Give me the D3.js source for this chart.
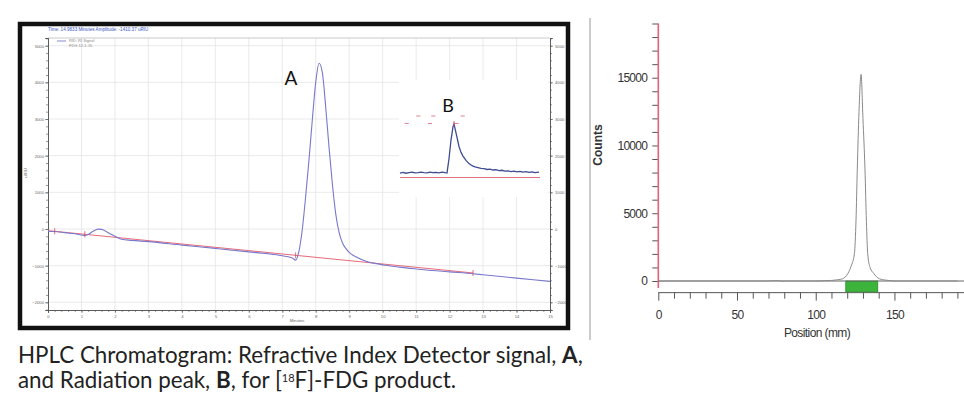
<!DOCTYPE html>
<html>
<head>
<meta charset="utf-8">
<script src="https://cdn.jsdelivr.net/npm/d3@7"></script>
<style>
  body { margin: 0; background: #fff; }
</style>
</head>
<body>
<script>
// ---- HPLC refractive index trace (minutes, uRIU) ----
var riTime   = [0, 0.2, 0.5, 0.8, 1.1, 1.2, 1.35, 1.5, 1.6, 1.8, 2.0, 2.2, 2.5, 3, 4, 5, 6, 7, 7.3, 7.4,
                7.5, 7.6, 7.7, 7.8, 7.9, 8.0, 8.1, 8.2, 8.3, 8.4, 8.5, 8.6, 8.7, 8.8, 8.9, 9.0, 9.2, 9.5,
                9.9, 10.5, 11, 12, 12.7, 13, 14, 15];
var riSignal = [-60, -70, -100, -130, -175, -150, -60, -5, -10, -100, -200, -280, -310, -345, -440, -530, -625, -730, -790, -850,
                -600, 0, 900, 1900, 3000, 4000, 4520, 4250, 3300, 2200, 1200, 400, -100, -380, -530, -640, -760, -880,
                -960, -1040, -1090, -1170, -1220, -1250, -1340, -1430];
// integration baseline and markers
var baseTime   = [0, 12.7];
var baseSignal = [-45, -1200];
var markTime   = [0.2, 1.1, 7.4, 12.7];
var yTicksL    = [-2000, -1000, 0, 1000, 2000, 3000, 4000, 5000];
var xTicksL    = d3.range(0, 16);

// ---- radiation detector inset (B) ----
var radTime   = [0, 0.3, 0.6, 0.9, 1.2, 1.5, 1.8, 2.1, 2.4, 2.7, 3.0, 3.3, 3.6, 3.9, 4.2, 4.5, 4.7,
                 4.9, 5.1, 5.3, 5.4, 5.5, 5.7, 5.9, 6.1, 6.3, 6.6, 6.9, 7.2, 7.5, 7.8, 8.1, 8.4, 8.7,
                 9.0, 9.3, 9.6, 9.9, 10.2, 10.5, 10.8, 11.1, 11.4, 11.7, 12.0, 12.3, 12.6, 12.9, 13.2, 13.5, 13.9];
var radCounts = [8, 9.5, 8, 9, 10, 8.5, 9, 10, 9, 8.5, 10, 9, 9.5, 8.5, 10, 9, 8.5,
                 35, 70, 95, 100, 92, 75, 58, 47, 40, 32, 26, 22, 20, 18.5, 17, 16.5, 15,
                 15.5, 14, 14.5, 13, 13.5, 12, 12.5, 11, 12, 10.5, 11.5, 10, 11, 9.5, 10.5, 9, 10];
var radMarkT  = [0.67, 3.0, 5.67, 1.83, 3.33, 6.27];
var radMarkC  = [101, 101, 101, 115, 115, 115];

// ---- radio-TLC scan ----
var tlcPos    = [0, 70, 72, 76, 78, 100, 104, 110, 114, 117, 120.5, 122.5, 124.6, 125.6, 126.4, 127.5, 128.8,
                 130, 131.3, 132.2, 133, 134.5, 136.8, 138.5, 140.5, 144, 148, 151, 190];
var tlcCounts = [0, 0, 25, 25, 0, 0, 15, 40, 90, 160, 570, 1100, 2040, 4500, 8200, 12500, 15250,
                 12000, 8200, 4400, 2040, 1000, 570, 330, 160, 70, 25, 0, 0];
var roi       = [119.1, 139.4];
var yTicksR   = [0, 5000, 10000, 15000];
var xTicksR   = [0, 50, 100, 150];

var W = 964, H = 405;
var svg = d3.select("body").append("svg").attr("width", W).attr("height", H);
svg.append("rect").attr("width", W).attr("height", H).attr("fill", "#fff");

// ================= left panel =================
var xL = d3.scaleLinear().domain([0, 15]).range([48, 550]);
var yL = d3.scaleLinear().domain([-2210, 5210]).range([310, 38]);

var left = svg.append("g").style("font-family", "'Liberation Sans', Arial, sans-serif");

// grid
left.selectAll(".vg").data(d3.range(1, 15)).enter().append("line")
    .attr("x1", d => xL(d)).attr("x2", d => xL(d)).attr("y1", yL.range()[1]).attr("y2", yL.range()[0])
    .attr("stroke", "#e4e4e4").attr("stroke-width", 0.8);
left.selectAll(".hg").data(yTicksL).enter().append("line")
    .attr("x1", xL.range()[0]).attr("x2", xL.range()[1]).attr("y1", d => yL(d)).attr("y2", d => yL(d))
    .attr("stroke", "#e4e4e4").attr("stroke-width", 0.8);
left.append("line").attr("x1", 48).attr("x2", 550).attr("y1", 38).attr("y2", 38)
    .attr("stroke", "#bbb").attr("stroke-width", 0.8);

// axes (major + minor)
function tinyAxis(axis, g) {
  g.call(axis);
  g.attr("font-family", null);
  g.select(".domain").attr("stroke", "#555").attr("stroke-width", 0.8);
  g.selectAll(".tick line").attr("stroke", "#555").attr("stroke-width", 0.6);
  g.selectAll("text").attr("font-size", 4.2).attr("fill", "#666");
}
tinyAxis(d3.axisLeft(yL).tickValues(d3.range(-2200, 5201, 200)).tickSize(2).tickFormat(""),
  left.append("g").attr("transform", "translate(48,0)"));
tinyAxis(d3.axisLeft(yL).tickValues(yTicksL).tickSize(3).tickPadding(1).tickFormat(d3.format("d")),
  left.append("g").attr("transform", "translate(48,0)"));
tinyAxis(d3.axisRight(yL).tickValues(d3.range(-2200, 5201, 200)).tickSize(2).tickFormat(""),
  left.append("g").attr("transform", "translate(550,0)"));
tinyAxis(d3.axisRight(yL).tickValues(yTicksL).tickSize(3).tickPadding(2).tickFormat(d3.format("d")),
  left.append("g").attr("transform", "translate(550,0)"));
tinyAxis(d3.axisBottom(xL).tickValues(d3.range(0, 15.01, 0.2)).tickSize(2).tickFormat(""),
  left.append("g").attr("transform", "translate(0,310)"));
tinyAxis(d3.axisBottom(xL).tickValues(xTicksL).tickSize(3).tickPadding(2).tickFormat(d3.format("d")),
  left.append("g").attr("transform", "translate(0,310)"));

left.append("text").attr("x", 297).attr("y", 322).attr("font-size", 4.2).attr("fill", "#666")
    .attr("text-anchor", "middle").text("Minutes");
left.append("text").attr("transform", "translate(27,173) rotate(-90)").attr("font-size", 4.2)
    .attr("fill", "#666").attr("text-anchor", "middle").text("uRIU");
left.append("text").attr("x", 48).attr("y", 31).attr("font-size", 4.6).attr("fill", "#3a55c8")
    .text("Time:  14.9833 Minutes   Amplitude:  -1410.37 uRIU");
left.append("line").attr("x1", 57).attr("x2", 66).attr("y1", 41).attr("y2", 41)
    .attr("stroke", "#6a6ac8").attr("stroke-width", 0.8);
left.append("text").attr("x", 69).attr("y", 42).attr("font-size", 4).attr("fill", "#888").text("RID: RI Signal");
left.append("text").attr("x", 69).attr("y", 47).attr("font-size", 4).attr("fill", "#888").text("FDG 12-1-15");

// integration baseline
left.append("path")
    .attr("d", d3.line().x(d => xL(d[0])).y(d => yL(d[1]))(d3.zip(baseTime, baseSignal)))
    .attr("fill", "none").attr("stroke", "#e86a78").attr("stroke-width", 1);

// RI trace
left.append("path")
    .attr("d", d3.line().curve(d3.curveMonotoneX).x(d => xL(d[0])).y(d => yL(d[1]))(d3.zip(riTime, riSignal)))
    .attr("fill", "none").attr("stroke", "#7878cc").attr("stroke-width", 1.1);

// peak markers on baseline
var baseAt = d3.scaleLinear().domain(baseTime).range(baseSignal);
left.selectAll(".mk").data(markTime).enter().append("line")
    .attr("x1", d => xL(d)).attr("x2", d => xL(d))
    .attr("y1", d => yL(baseAt(d)) - 3).attr("y2", d => yL(baseAt(d)) + 3)
    .attr("stroke", "#d04a5a").attr("stroke-width", 0.8);

// inset (radiation detector)
var xI = d3.scaleLinear().domain([0, 14]).range([400, 540]);
var yI = d3.scaleLinear().domain([0, 100]).range([177.5, 124]);
left.append("rect").attr("x", 399).attr("y", 80).attr("width", 149).attr("height", 117).attr("fill", "#fff");
left.append("line").attr("x1", xI(0)).attr("x2", xI(14)).attr("y1", yI(0)).attr("y2", yI(0))
    .attr("stroke", "#e0707c").attr("stroke-width", 1);
left.append("path")
    .attr("d", d3.line().x(d => xI(d[0])).y(d => yI(d[1]))(d3.zip(radTime, radCounts)))
    .attr("fill", "none").attr("stroke", "#3e4c94").attr("stroke-width", 1.3);
left.selectAll(".rm").data(d3.zip(radMarkT, radMarkC)).enter().append("line")
    .attr("x1", d => xI(d[0]) - 2).attr("x2", d => xI(d[0]) + 2)
    .attr("y1", d => yI(d[1])).attr("y2", d => yI(d[1]))
    .attr("stroke", "#e07080").attr("stroke-width", 0.9);
left.append("line").attr("x1", xI(5.4)).attr("x2", xI(5.4)).attr("y1", yI(100) - 3).attr("y2", yI(100) + 3)
    .attr("stroke", "#d04a5a").attr("stroke-width", 0.8);

// peak letters
left.append("text").attr("x", 291).attr("y", 85).attr("font-size", 19).attr("fill", "#111")
    .attr("text-anchor", "middle").style("font-family", "Lato, sans-serif").text("A");
left.append("text").attr("x", 448).attr("y", 112).attr("font-size", 18).attr("fill", "#111")
    .attr("text-anchor", "middle").style("font-family", "Lato, sans-serif").text("B");

// thick frame
left.append("rect").attr("x", 20).attr("y", 24).attr("width", 548).attr("height", 304)
    .attr("fill", "none").attr("stroke", "#111").attr("stroke-width", 4.5);

// caption
var cap = svg.append("g").style("font-family", "Lato, sans-serif").attr("fill", "#222");
var l1 = cap.append("text").attr("x", 18).attr("y", 363).attr("font-size", 18);
l1.append("tspan").text("HPLC Chromatogram: Refractive Index Detector signal, ");
l1.append("tspan").attr("font-weight", "bold").text("A");
l1.append("tspan").text(",");
var l2 = cap.append("text").attr("x", 18).attr("y", 388).attr("font-size", 18);
l2.append("tspan").text("and Radiation peak, ");
l2.append("tspan").attr("font-weight", "bold").text("B");
l2.append("tspan").text(", for [");
l2.append("tspan").attr("font-size", 11).attr("dy", -6).text("18");
l2.append("tspan").attr("dy", 6).text("F]-FDG product.");
// fit line 1 to its width in the picture
var fs = 18 * 565 / l1.node().getComputedTextLength();
l1.attr("font-size", fs); l2.attr("font-size", fs);

// separator
svg.append("line").attr("x1", 590).attr("x2", 590).attr("y1", 18).attr("y2", 340)
    .attr("stroke", "#bbb").attr("stroke-width", 1.5);

// ================= right panel =================
var xR = d3.scaleLinear().domain([0, 190]).range([658.3, 957.4]);
var yR = d3.scaleLinear().domain([0, 19000]).range([281, 23.5]);
var right = svg.append("g").style("font-family", "'Liberation Sans', Arial, sans-serif");

var axY = right.append("g").attr("transform", "translate(" + xR(0) + ",0)")
    .call(d3.axisLeft(yR).tickValues(d3.range(0, 19001, 1000)).tickSize(6).tickPadding(5)
      .tickFormat(d => yTicksR.indexOf(d) >= 0 ? d : ""));
axY.attr("font-family", null);
axY.select(".domain").remove();
axY.selectAll(".tick line").attr("stroke", "#555").attr("stroke-width", 1);
axY.selectAll("text").attr("font-size", 12).attr("fill", "#333").attr("letter-spacing", -0.7);
right.append("line").attr("x1", xR(0)).attr("x2", xR(0)).attr("y1", yR(19000)).attr("y2", yR(-520))
    .attr("stroke", "#e8607a").attr("stroke-width", 1.6);

var axX = right.append("g").attr("transform", "translate(0," + yR(-860) + ")")
    .call(d3.axisBottom(xR).tickValues(d3.range(0, 191, 10)).tickSize(6).tickPadding(12)
      .tickFormat(d => xTicksR.indexOf(d) >= 0 ? d : ""));
axX.attr("font-family", null);
axX.select(".domain").attr("d", "M" + xR(0) + ",0H" + W).attr("stroke", "#555");
axX.selectAll(".tick line").attr("stroke", "#555").attr("stroke-width", 1)
    .attr("y2", d => d % 50 === 0 ? 8 : 6);
axX.selectAll("text").attr("font-size", 12).attr("fill", "#333").attr("letter-spacing", -0.7);

right.append("text").attr("x", 817).attr("y", 337).attr("font-size", 12).attr("fill", "#333")
    .attr("letter-spacing", -0.6).attr("text-anchor", "middle").text("Position (mm)");
right.append("text").attr("transform", "translate(602,145) rotate(-90)").attr("font-size", 12)
    .attr("font-weight", "bold").attr("fill", "#333").attr("text-anchor", "middle").text("Counts");

// region of interest
right.append("rect").attr("x", xR(roi[0])).attr("y", yR(0))
    .attr("width", xR(roi[1]) - xR(roi[0])).attr("height", yR(-800) - yR(0))
    .attr("fill", "#3cb43c").attr("stroke", "#2a8a2a").attr("stroke-width", 0.8);

// zero line and scan
right.append("line").attr("x1", xR(0)).attr("x2", W).attr("y1", yR(0)).attr("y2", yR(0))
    .attr("stroke", "#666").attr("stroke-width", 1);
right.append("path")
    .attr("d", d3.line().curve(d3.curveMonotoneX).x(d => xR(d[0])).y(d => yR(d[1]))(d3.zip(tlcPos, tlcCounts)))
    .attr("fill", "none").attr("stroke", "#8a8a8a").attr("stroke-width", 1);
</script>
</body>
</html>
